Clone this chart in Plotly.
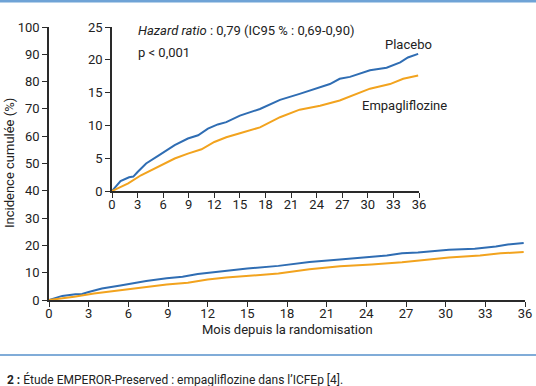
import plotly.graph_objects as go

# Data
months_placebo = [0, 1, 2, 2.5, 3, 4, 5.4, 7.35, 8.9, 10.1, 11.25, 12.4, 13.4, 15, 17.35,
                  19.7, 22, 24.4, 25.55, 26.7, 27.9, 30.25, 32.2, 33.8, 34.7, 35.9]
placebo = [0, 1.5, 2.1, 2.2, 2.9, 4.2, 5.35, 7.0, 8.0, 8.5, 9.5, 10.15, 10.5, 11.5, 12.5,
           13.9, 14.8, 15.8, 16.3, 17.1, 17.4, 18.4, 18.8, 19.6, 20.35, 20.9]
months_empa = [0, 1.9, 3.4, 5.4, 7.35, 8.9, 10.5, 12.0, 13.4, 15, 17.35, 19.7, 22, 24.4,
               26.7, 30.25, 32.6, 34.15, 35.9]
empa = [0, 1.15, 2.4, 3.7, 4.95, 5.7, 6.36, 7.47, 8.2, 8.8, 9.7, 11.25, 12.4, 13.0,
        13.8, 15.6, 16.3, 17.1, 17.6]

x_ticks = list(range(0, 37, 3))
main_y_ticks = list(range(0, 101, 10))
inset_y_ticks = list(range(0, 26, 5))

BLUE = "#2f6db3"
ORANGE = "#f2a31e"
AXIS = "#2a2a2a"
FONT = "Roboto"
W, H = 536, 386

fig = go.Figure()
for xa, ya in (("x", "y"), ("x2", "y2")):
    fig.add_trace(go.Scatter(x=months_placebo, y=placebo, mode="lines",
                             line=dict(color=BLUE, width=2), xaxis=xa, yaxis=ya,
                             showlegend=False, hoverinfo="skip", cliponaxis=False))
    fig.add_trace(go.Scatter(x=months_empa, y=empa, mode="lines",
                             line=dict(color=ORANGE, width=2), xaxis=xa, yaxis=ya,
                             showlegend=False, hoverinfo="skip", cliponaxis=False))

def px_x(p):
    return p / W

def px_y(p):
    return 1 - p / H

axis_common = dict(showgrid=False, zeroline=False, showline=True, linecolor=AXIS,
                   linewidth=1.5, ticks="outside", ticklen=5, tickwidth=1.2,
                   tickcolor=AXIS, automargin=False,
                   tickfont=dict(family=FONT, size=13, color="#222"))
x_extra = dict(ticklabelstandoff=-4)

fig.update_layout(
    width=W, height=H, margin=dict(l=0, r=0, t=0, b=0, autoexpand=False),
    paper_bgcolor="white", plot_bgcolor="rgba(0,0,0,0)",
    font=dict(family=FONT, color="#222"),
    xaxis=dict(domain=[px_x(49), px_x(525)], range=[0, 36], tickvals=x_ticks,
               anchor="y", **axis_common, **x_extra),
    yaxis=dict(domain=[px_y(300), px_y(27)], range=[0, 100], tickvals=main_y_ticks,
               anchor="x", **axis_common),
    xaxis2=dict(domain=[px_x(112), px_x(419)], range=[0, 36], tickvals=x_ticks,
                anchor="y2", **axis_common, **x_extra),
    yaxis2=dict(domain=[px_y(191), px_y(27)], range=[0, 25], tickvals=inset_y_ticks,
                anchor="x2", **axis_common),
)

ann = [
    dict(x=px_x(287), y=px_y(329), text="Mois depuis la randomisation",
         font=dict(size=13)),
    dict(x=px_x(10), y=px_y(163), text="Incidence cumulée (%)", textangle=-90,
         font=dict(size=13)),
    dict(x=px_x(136), y=px_y(30), text="<i>Hazard ratio</i> : 0,79 (IC95 % : 0,69-0,90)",
         xanchor="left", font=dict(size=13)),
    dict(x=px_x(136), y=px_y(52), text="p < 0,001", xanchor="left", font=dict(size=13)),
    dict(x=px_x(408), y=px_y(45), text="Placebo", font=dict(size=13)),
    dict(x=px_x(404), y=px_y(105), text="Empagliflozine", font=dict(size=13)),
    dict(x=px_x(5), y=px_y(379), text="<b>2 :</b> Étude EMPEROR-Preserved : empagliflozine dans l’ICFEp [4].",
         xanchor="left", font=dict(size=12)),
]
for a in ann:
    a.update(xref="paper", yref="paper", showarrow=False)
    a.setdefault("xanchor", "center")
    a["yanchor"] = "middle"
fig.update_layout(annotations=ann)

fig.update_layout(shapes=[
    dict(type="line", xref="paper", yref="paper", x0=0, x1=1, y0=px_y(1), y1=px_y(1),
         line=dict(color="#6fa3d6", width=3)),
    dict(type="line", xref="paper", yref="paper", x0=0, x1=1, y0=px_y(355), y1=px_y(355),
         line=dict(color="#80acd8", width=2)),
])

fig.write_html("out.html", config={"displayModeBar": False},
               post_script="document.body.style.margin='0';document.body.style.padding='0';"
                           "document.body.style.overflow='hidden';")
